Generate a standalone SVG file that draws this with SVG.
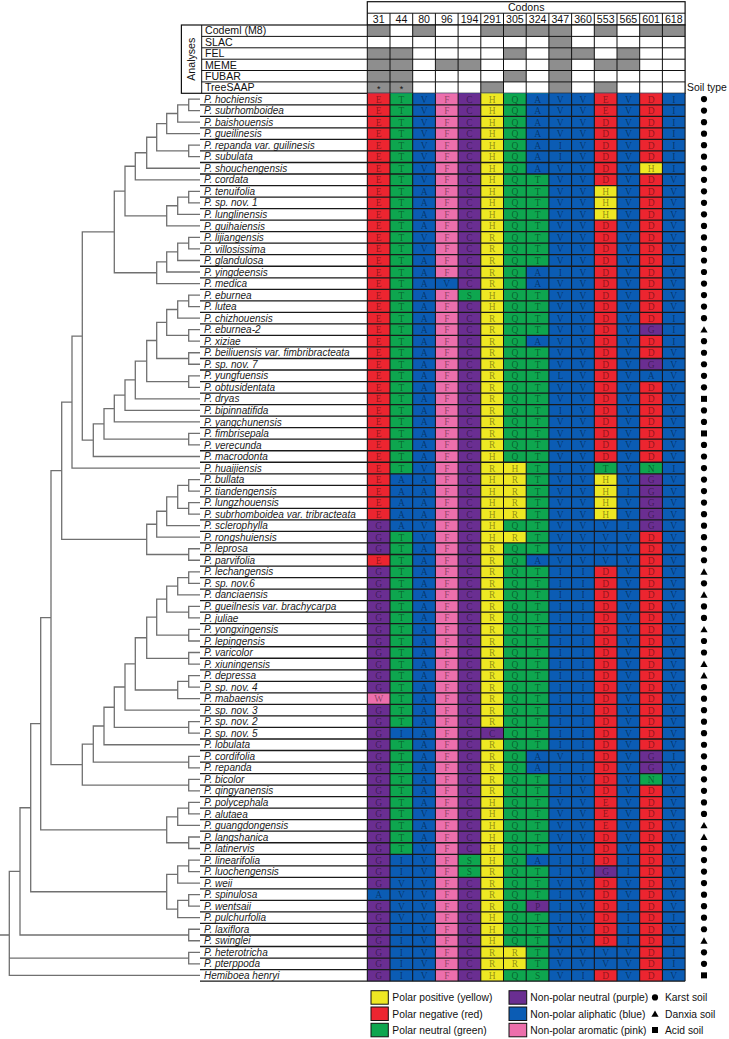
<svg xmlns="http://www.w3.org/2000/svg" xmlns:xlink="http://www.w3.org/1999/xlink" width="729" height="1039" viewBox="0 0 729 1039">
<style>
.n{font-family:"Liberation Sans",Arial,sans-serif;font-style:italic;font-size:10px;fill:#1a1a1a}
.a{font-family:"Liberation Serif","Times New Roman",serif;font-size:9.5px;fill:#000;fill-opacity:.42;text-anchor:middle}
.h{font-family:"Liberation Sans",Arial,sans-serif;font-size:10.6px;fill:#111}
.c{text-anchor:middle}
.lg{font-family:"Liberation Sans",Arial,sans-serif;font-size:10.3px;fill:#111}
.y{fill:#eee823}.r{fill:#ec2530}.g{fill:#0ea64f}.b{fill:#0b5cb4}.k{fill:#ec6fac}.p{fill:#6a2e91}.gy{fill:#8e8e8e}
.t{fill:none;stroke:#707070;stroke-width:1.3}
.gr{fill:none;stroke:#111;stroke-width:1}
.nl{fill:none;stroke:#1a1a1a;stroke-width:1.3}
.lb{stroke:#111;stroke-width:1}
</style>
<defs>
<circle id="karst" r="3.1" fill="#000"/>
<path id="danxia" d="M0 -3.5L3.6 2.9H-3.6Z" fill="#000"/>
<rect id="acid" x="-3" y="-3" width="6" height="6" fill="#000"/>
</defs>

<g id="tree">
<path class="t" d="M200 99.07H188.7V110.6H200M188.7 104.84H177.7V122.13H200M177.7 113.49H166.7V133.66H200M200 145.19H188.7V156.72H200M166.7 123.58H156.7V150.96H188.7M156.7 137.27H146.7V168.25H200M146.7 152.76H135.3V179.78H200M200 191.31H188.7V202.84H200M188.7 197.08H177.7V214.37H200M177.7 205.73H166.7V225.9H200M135.3 166.27H125V215.82H166.7M200 237.43H188.7V248.96H200M188.7 243.2H177.7V260.49H200M177.7 251.85H166.7V272.02H200M166.7 261.94H156.7V283.55H200M125 191.05H114.3V272.75H156.7M200 295.08H188.7V306.61H200M188.7 300.85H177.7V318.14H200M200 329.67H188.7V341.2H200M177.7 309.5H166.7V335.44H188.7M200 352.73H188.7V364.26H200M166.7 322.47H156.7V358.5H188.7M200 375.79H188.7V387.32H200M156.7 340.49H146.7V381.56H188.7M146.7 361.03H135.3V398.85H200M135.3 379.94H125V410.38H200M125 395.16H114.3V421.91H200M200 433.44H188.7V444.97H200M114.3 408.54H104V439.21H188.7M104 423.88H93.3V456.5H200M114.3 231.9H82.3V440.19H93.3M82.3 336.05H72V468.03H200M200 479.56H188.7V491.09H200M200 502.62H188.7V514.15H200M188.7 485.33H177.7V508.39H188.7M177.7 496.86H166.7V525.68H200M166.7 511.27H156.7V537.21H200M200 548.74H188.7V560.27H200M156.7 524.24H146.7V554.51H188.7M72 402.04H61.7V539.38H146.7M200 571.8H188.7V583.33H200M188.7 577.57H177.7V594.86H200M200 606.39H188.7V617.92H200M177.7 586.22H166.7V612.16H188.7M200 629.45H188.7V640.98H200M166.7 599.19H156.7V635.22H188.7M200 652.51H188.7V664.04H200M156.7 617.21H146.7V658.28H188.7M200 675.57H188.7V687.1H200M188.7 681.34H177.7V698.63H200M146.7 637.75H135.3V689.99H177.7M135.3 663.87H125V710.16H200M200 721.69H188.7V733.22H200M125 687.02H114.3V727.46H188.7M114.3 707.24H104V744.75H200M200 756.28H188.7V767.81H200M104 726H93.3V762.05H188.7M200 779.34H188.7V790.87H200M93.3 744.03H82.3V785.11H188.7M61.7 470.71H51V764.57H82.3M200 802.4H188.7V813.93H200M188.7 808.17H177.7V825.46H200M200 836.99H188.7V848.52H200M177.7 816.81H166.7V842.76H188.7M51 617.64H40.7V829.78H166.7M200 860.05H188.7V871.58H200M188.7 865.82H177.7V883.11H200M200 894.64H188.7V906.17H200M188.7 900.41H177.7V917.7H200M177.7 874.46H166.7V909.05H177.7M40.7 723.71H30.7V891.76H166.7M200 929.23H188.7V940.76H200M30.7 807.73H20V935H188.7M200 952.29H188.7V963.82H200M20 871.36H9.3V975.35H200M9.3 958.06H188.7M0 935H9.3"/>
</g>

<g id="codons-header">
<rect x="367.3" y="1.7" width="317.8" height="23.3" fill="#fff" stroke="#111" stroke-width="1.2"/>
<path class="gr" d="M367.3 13.2H685.1M390 13.2V25M412.7 13.2V25M435.4 13.2V25M458.1 13.2V25M480.8 13.2V25M503.5 13.2V25M526.2 13.2V25M548.9 13.2V25M571.6 13.2V25M594.3 13.2V25M617 13.2V25M639.7 13.2V25M662.4 13.2V25"/>
<text class="h c" x="526.2" y="11.3">Codons</text>
<g class="h c">
<text x="378.7" y="23">31</text><text x="401.4" y="23">44</text><text x="424.1" y="23">80</text><text x="446.8" y="23">96</text><text x="469.5" y="23">194</text><text x="492.2" y="23">291</text><text x="514.9" y="23">305</text><text x="537.6" y="23">324</text><text x="560.3" y="23">347</text><text x="583" y="23">360</text><text x="605.7" y="23">553</text><text x="628.4" y="23">565</text><text x="651.1" y="23">601</text><text x="673.8" y="23">618</text>
</g>
</g>

<g id="analyses">
<rect x="181.4" y="25" width="503.7" height="68.3" fill="#fff"/>
<g class="gy">
<rect x="367.3" y="25" width="22.7" height="11.4"/><rect x="412.7" y="25" width="22.7" height="11.4"/><rect x="480.8" y="25" width="90.8" height="11.4"/><rect x="594.3" y="25" width="22.7" height="11.4"/><rect x="639.7" y="25" width="45.4" height="11.4"/>
<rect x="548.9" y="36.4" width="22.7" height="11.4"/>
<rect x="367.3" y="47.8" width="45.4" height="11.4"/><rect x="503.5" y="47.8" width="22.7" height="11.4"/><rect x="548.9" y="47.8" width="45.4" height="11.4"/><rect x="617" y="47.8" width="22.7" height="11.4"/>
<rect x="367.3" y="59.2" width="45.4" height="11.3"/><rect x="435.4" y="59.2" width="45.4" height="11.3"/><rect x="548.9" y="59.2" width="22.7" height="11.3"/><rect x="594.3" y="59.2" width="45.4" height="11.3"/>
<rect x="367.3" y="70.5" width="45.4" height="11.4"/><rect x="503.5" y="70.5" width="22.7" height="11.4"/><rect x="548.9" y="70.5" width="22.7" height="11.4"/>
<rect x="367.3" y="81.9" width="45.4" height="11.4"/><rect x="480.8" y="81.9" width="22.7" height="11.4"/><rect x="548.9" y="81.9" width="22.7" height="11.4"/><rect x="594.3" y="81.9" width="22.7" height="11.4"/>
</g>
<path class="gr" d="M201.7 36.4H685.1M201.7 47.8H685.1M201.7 59.2H685.1M201.7 70.5H685.1M201.7 81.9H685.1M201.7 25V93.3M367.3 25V93.3M390 25V93.3M412.7 25V93.3M435.4 25V93.3M458.1 25V93.3M480.8 25V93.3M503.5 25V93.3M526.2 25V93.3M548.9 25V93.3M571.6 25V93.3M594.3 25V93.3M617 25V93.3M639.7 25V93.3M662.4 25V93.3"/>
<rect x="181.4" y="25" width="503.7" height="68.3" fill="none" stroke="#111" stroke-width="1.2"/>
<text class="h c" transform="translate(195.3 59.2) rotate(-90)">Analyses</text>
<text class="h" x="205" y="34.3">Codeml (M8)</text>
<text class="h" x="205" y="45.7">SLAC</text>
<text class="h" x="205" y="57.1">FEL</text>
<text class="h" x="205" y="68.5">MEME</text>
<text class="h" x="205" y="79.8">FUBAR</text>
<text class="h" x="205" y="91.2">TreeSAAP</text>
<text class="h c" x="378.7" y="92" style="font-size:9px">*</text>
<text class="h c" x="401.4" y="92" style="font-size:9px">*</text>
<text class="h" x="687" y="90.5" style="font-size:10.4px">Soil type</text>
</g>

<g id="cells">
<rect class="b" x="367.3" y="93.3" width="317.8" height="887.81"/>
<rect class="r" x="367.3" y="93.3" width="22.7" height="426.61"/><rect class="p" x="367.3" y="519.91" width="22.7" height="34.59"/><rect class="r" x="367.3" y="554.5" width="22.7" height="11.53"/><rect class="p" x="367.3" y="566.03" width="22.7" height="126.83"/><rect class="k" x="367.3" y="692.86" width="22.7" height="11.53"/><rect class="p" x="367.3" y="704.39" width="22.7" height="184.48"/><rect class="p" x="367.3" y="900.4" width="22.7" height="80.71"/>
<rect class="g" x="390" y="93.3" width="22.7" height="380.49"/><rect class="g" x="390" y="531.44" width="22.7" height="196.01"/><rect class="g" x="390" y="738.98" width="22.7" height="115.3"/>
<rect class="k" x="435.4" y="93.3" width="22.7" height="184.48"/><rect class="k" x="435.4" y="289.31" width="22.7" height="691.8"/>
<rect class="p" x="458.1" y="93.3" width="22.7" height="887.81"/><rect class="g" x="458.1" y="289.31" width="22.7" height="11.53"/><rect class="g" x="458.1" y="854.28" width="22.7" height="23.06"/>
<rect class="y" x="480.8" y="93.3" width="22.7" height="887.81"/><rect class="p" x="480.8" y="727.45" width="22.7" height="11.53"/>
<rect class="g" x="503.5" y="93.3" width="22.7" height="887.81"/><rect class="y" x="503.5" y="462.26" width="22.7" height="57.65"/><rect class="y" x="503.5" y="531.44" width="22.7" height="11.53"/><rect class="y" x="503.5" y="946.52" width="22.7" height="23.06"/>
<rect class="g" x="526.2" y="93.3" width="22.7" height="887.81"/><rect class="b" x="526.2" y="93.3" width="22.7" height="80.71"/><rect class="b" x="526.2" y="266.25" width="22.7" height="23.06"/><rect class="b" x="526.2" y="335.43" width="22.7" height="11.53"/><rect class="b" x="526.2" y="554.5" width="22.7" height="11.53"/><rect class="b" x="526.2" y="750.51" width="22.7" height="23.06"/><rect class="b" x="526.2" y="854.28" width="22.7" height="11.53"/><rect class="p" x="526.2" y="900.4" width="22.7" height="11.53"/>
<rect class="r" x="594.3" y="93.3" width="22.7" height="887.81"/><rect class="y" x="594.3" y="185.54" width="22.7" height="34.59"/><rect class="g" x="594.3" y="462.26" width="22.7" height="11.53"/><rect class="y" x="594.3" y="473.79" width="22.7" height="46.12"/><rect class="b" x="594.3" y="519.91" width="22.7" height="46.12"/><rect class="p" x="594.3" y="865.81" width="22.7" height="11.53"/><rect class="b" x="594.3" y="946.52" width="22.7" height="23.06"/>
<rect class="r" x="639.7" y="93.3" width="22.7" height="887.81"/><rect class="y" x="639.7" y="162.48" width="22.7" height="11.53"/><rect class="p" x="639.7" y="323.9" width="22.7" height="11.53"/><rect class="p" x="639.7" y="358.49" width="22.7" height="11.53"/><rect class="b" x="639.7" y="370.02" width="22.7" height="11.53"/><rect class="g" x="639.7" y="462.26" width="22.7" height="11.53"/><rect class="p" x="639.7" y="473.79" width="22.7" height="57.65"/><rect class="p" x="639.7" y="750.51" width="22.7" height="23.06"/><rect class="g" x="639.7" y="773.57" width="22.7" height="11.53"/>
<path class="gr" d="M367.3 93.3V981.11M390 93.3V981.11M412.7 93.3V981.11M435.4 93.3V981.11M458.1 93.3V981.11M480.8 93.3V981.11M503.5 93.3V981.11M526.2 93.3V981.11M548.9 93.3V981.11M571.6 93.3V981.11M594.3 93.3V981.11M617 93.3V981.11M639.7 93.3V981.11M662.4 93.3V981.11M685.1 93.3V981.11"/>
<path class="nl" d="M200 104.83H685.1M200 116.36H685.1M200 127.89H685.1M200 139.42H685.1M200 150.95H685.1M200 162.48H685.1M200 174.01H685.1M200 185.54H685.1M200 197.07H685.1M200 208.6H685.1M200 220.13H685.1M200 231.66H685.1M200 243.19H685.1M200 254.72H685.1M200 266.25H685.1M200 277.78H685.1M200 289.31H685.1M200 300.84H685.1M200 312.37H685.1M200 323.9H685.1M200 335.43H685.1M200 346.96H685.1M200 358.49H685.1M200 370.02H685.1M200 381.55H685.1M200 393.08H685.1M200 404.61H685.1M200 416.14H685.1M200 427.67H685.1M200 439.2H685.1M200 450.73H685.1M200 462.26H685.1M200 473.79H685.1M200 485.32H685.1M200 496.85H685.1M200 508.38H685.1M200 519.91H685.1M200 531.44H685.1M200 542.97H685.1M200 554.5H685.1M200 566.03H685.1M200 577.56H685.1M200 589.09H685.1M200 600.62H685.1M200 612.15H685.1M200 623.68H685.1M200 635.21H685.1M200 646.74H685.1M200 658.27H685.1M200 669.8H685.1M200 681.33H685.1M200 692.86H685.1M200 704.39H685.1M200 715.92H685.1M200 727.45H685.1M200 738.98H685.1M200 750.51H685.1M200 762.04H685.1M200 773.57H685.1M200 785.1H685.1M200 796.63H685.1M200 808.16H685.1M200 819.69H685.1M200 831.22H685.1M200 842.75H685.1M200 854.28H685.1M200 865.81H685.1M200 877.34H685.1M200 888.87H685.1M200 900.4H685.1M200 911.93H685.1M200 923.46H685.1M200 934.99H685.1M200 946.52H685.1M200 958.05H685.1M200 969.58H685.1M200 981.11H685.1"/>
</g>

<g id="species">
<g id="sp01" transform="translate(0 93.3)"><text class="n" x="204" y="9.4">P. hochiensis</text><text class="a" y="9.3" x="378.7 401.4 424.1 446.8 469.5 492.2 514.9 537.6 560.3 583 605.7 628.4 651.1 673.8">ETVFCHQAVVEVDI</text><use href="#karst" x="704" y="5.77"/></g>
<g id="sp02" transform="translate(0 104.83)"><text class="n" x="204" y="9.4">P. subrhomboidea</text><text class="a" y="9.3" x="378.7 401.4 424.1 446.8 469.5 492.2 514.9 537.6 560.3 583 605.7 628.4 651.1 673.8">ETVFCHQAVVEVDI</text><use href="#karst" x="704" y="5.77"/></g>
<g id="sp03" transform="translate(0 116.36)"><text class="n" x="204" y="9.4">P. baishouensis</text><text class="a" y="9.3" x="378.7 401.4 424.1 446.8 469.5 492.2 514.9 537.6 560.3 583 605.7 628.4 651.1 673.8">ETVFCHQAVVDVDI</text><use href="#karst" x="704" y="5.77"/></g>
<g id="sp04" transform="translate(0 127.89)"><text class="n" x="204" y="9.4">P. gueilinesis</text><text class="a" y="9.3" x="378.7 401.4 424.1 446.8 469.5 492.2 514.9 537.6 560.3 583 605.7 628.4 651.1 673.8">ETVFCHQAVVDVDI</text><use href="#karst" x="704" y="5.77"/></g>
<g id="sp05" transform="translate(0 139.42)"><text class="n" x="204" y="9.4">P. repanda var. guilinesis</text><text class="a" y="9.3" x="378.7 401.4 424.1 446.8 469.5 492.2 514.9 537.6 560.3 583 605.7 628.4 651.1 673.8">ETVFCHQAIVDVDI</text><use href="#karst" x="704" y="5.77"/></g>
<g id="sp06" transform="translate(0 150.95)"><text class="n" x="204" y="9.4">P. subulata</text><text class="a" y="9.3" x="378.7 401.4 424.1 446.8 469.5 492.2 514.9 537.6 560.3 583 605.7 628.4 651.1 673.8">ETVFCHQAIVDVDI</text><use href="#karst" x="704" y="5.77"/></g>
<g id="sp07" transform="translate(0 162.48)"><text class="n" x="204" y="9.4">P. shouchengensis</text><text class="a" y="9.3" x="378.7 401.4 424.1 446.8 469.5 492.2 514.9 537.6 560.3 583 605.7 628.4 651.1 673.8">ETVFCHQAVVDVHI</text><use href="#karst" x="704" y="5.77"/></g>
<g id="sp08" transform="translate(0 174.01)"><text class="n" x="204" y="9.4">P. cordata</text><text class="a" y="9.3" x="378.7 401.4 424.1 446.8 469.5 492.2 514.9 537.6 560.3 583 605.7 628.4 651.1 673.8">ETVFCHQTVVDVDV</text><use href="#karst" x="704" y="5.77"/></g>
<g id="sp09" transform="translate(0 185.54)"><text class="n" x="204" y="9.4">P. tenuifolia</text><text class="a" y="9.3" x="378.7 401.4 424.1 446.8 469.5 492.2 514.9 537.6 560.3 583 605.7 628.4 651.1 673.8">ETAFCHQTVVHVDV</text><use href="#karst" x="704" y="5.77"/></g>
<g id="sp10" transform="translate(0 197.07)"><text class="n" x="204" y="9.4">P. sp. nov. 1</text><text class="a" y="9.3" x="378.7 401.4 424.1 446.8 469.5 492.2 514.9 537.6 560.3 583 605.7 628.4 651.1 673.8">ETAFCHQTVVHVDV</text><use href="#karst" x="704" y="5.77"/></g>
<g id="sp11" transform="translate(0 208.6)"><text class="n" x="204" y="9.4">P. lunglinensis</text><text class="a" y="9.3" x="378.7 401.4 424.1 446.8 469.5 492.2 514.9 537.6 560.3 583 605.7 628.4 651.1 673.8">ETAFCHQTVVHVDV</text><use href="#karst" x="704" y="5.77"/></g>
<g id="sp12" transform="translate(0 220.13)"><text class="n" x="204" y="9.4">P. guihaiensis</text><text class="a" y="9.3" x="378.7 401.4 424.1 446.8 469.5 492.2 514.9 537.6 560.3 583 605.7 628.4 651.1 673.8">ETAFCHQTVVDVDV</text><use href="#karst" x="704" y="5.77"/></g>
<g id="sp13" transform="translate(0 231.66)"><text class="n" x="204" y="9.4">P. lijiangensis</text><text class="a" y="9.3" x="378.7 401.4 424.1 446.8 469.5 492.2 514.9 537.6 560.3 583 605.7 628.4 651.1 673.8">ETVFCRQTVVDVDV</text><use href="#karst" x="704" y="5.77"/></g>
<g id="sp14" transform="translate(0 243.19)"><text class="n" x="204" y="9.4">P. villosissima</text><text class="a" y="9.3" x="378.7 401.4 424.1 446.8 469.5 492.2 514.9 537.6 560.3 583 605.7 628.4 651.1 673.8">ETVFCRQTVVDVDV</text><use href="#karst" x="704" y="5.77"/></g>
<g id="sp15" transform="translate(0 254.72)"><text class="n" x="204" y="9.4">P. glandulosa</text><text class="a" y="9.3" x="378.7 401.4 424.1 446.8 469.5 492.2 514.9 537.6 560.3 583 605.7 628.4 651.1 673.8">ETAFCRQTVVDVDI</text><use href="#karst" x="704" y="5.77"/></g>
<g id="sp16" transform="translate(0 266.25)"><text class="n" x="204" y="9.4">P. yingdeensis</text><text class="a" y="9.3" x="378.7 401.4 424.1 446.8 469.5 492.2 514.9 537.6 560.3 583 605.7 628.4 651.1 673.8">ETAFCRQAIVDVDV</text><use href="#karst" x="704" y="5.77"/></g>
<g id="sp17" transform="translate(0 277.78)"><text class="n" x="204" y="9.4">P. medica</text><text class="a" y="9.3" x="378.7 401.4 424.1 446.8 469.5 492.2 514.9 537.6 560.3 583 605.7 628.4 651.1 673.8">ETAVCRQAVVDVDV</text><use href="#karst" x="704" y="5.77"/></g>
<g id="sp18" transform="translate(0 289.31)"><text class="n" x="204" y="9.4">P. eburnea</text><text class="a" y="9.3" x="378.7 401.4 424.1 446.8 469.5 492.2 514.9 537.6 560.3 583 605.7 628.4 651.1 673.8">ETAFSHQTVVDVDV</text><use href="#karst" x="704" y="5.77"/></g>
<g id="sp19" transform="translate(0 300.84)"><text class="n" x="204" y="9.4">P. lutea</text><text class="a" y="9.3" x="378.7 401.4 424.1 446.8 469.5 492.2 514.9 537.6 560.3 583 605.7 628.4 651.1 673.8">ETAFCHQTVVDVDV</text><use href="#karst" x="704" y="5.77"/></g>
<g id="sp20" transform="translate(0 312.37)"><text class="n" x="204" y="9.4">P. chizhouensis</text><text class="a" y="9.3" x="378.7 401.4 424.1 446.8 469.5 492.2 514.9 537.6 560.3 583 605.7 628.4 651.1 673.8">ETAFCRQTVVDVDI</text><use href="#karst" x="704" y="5.77"/></g>
<g id="sp21" transform="translate(0 323.9)"><text class="n" x="204" y="9.4">P. eburnea-2</text><text class="a" y="9.3" x="378.7 401.4 424.1 446.8 469.5 492.2 514.9 537.6 560.3 583 605.7 628.4 651.1 673.8">ETAFCRQTVVDVGI</text><use href="#danxia" x="704" y="5.77"/></g>
<g id="sp22" transform="translate(0 335.43)"><text class="n" x="204" y="9.4">P. xiziae</text><text class="a" y="9.3" x="378.7 401.4 424.1 446.8 469.5 492.2 514.9 537.6 560.3 583 605.7 628.4 651.1 673.8">ETAFCRQAVVDVDI</text><use href="#karst" x="704" y="5.77"/></g>
<g id="sp23" transform="translate(0 346.96)"><text class="n" x="204" y="9.4">P. beiliuensis var. fimbribracteata</text><text class="a" y="9.3" x="378.7 401.4 424.1 446.8 469.5 492.2 514.9 537.6 560.3 583 605.7 628.4 651.1 673.8">ETAFCRQTVVDVDV</text><use href="#karst" x="704" y="5.77"/></g>
<g id="sp24" transform="translate(0 358.49)"><text class="n" x="204" y="9.4">P. sp. nov. 7</text><text class="a" y="9.3" x="378.7 401.4 424.1 446.8 469.5 492.2 514.9 537.6 560.3 583 605.7 628.4 651.1 673.8">ETAFCRQTVVDVGV</text><use href="#karst" x="704" y="5.77"/></g>
<g id="sp25" transform="translate(0 370.02)"><text class="n" x="204" y="9.4">P. yungfuensis</text><text class="a" y="9.3" x="378.7 401.4 424.1 446.8 469.5 492.2 514.9 537.6 560.3 583 605.7 628.4 651.1 673.8">ETAFCRQTLVDVAV</text><use href="#karst" x="704" y="5.77"/></g>
<g id="sp26" transform="translate(0 381.55)"><text class="n" x="204" y="9.4">P. obtusidentata</text><text class="a" y="9.3" x="378.7 401.4 424.1 446.8 469.5 492.2 514.9 537.6 560.3 583 605.7 628.4 651.1 673.8">ETAFCRQTVVDVDV</text><use href="#karst" x="704" y="5.77"/></g>
<g id="sp27" transform="translate(0 393.08)"><text class="n" x="204" y="9.4">P. dryas</text><text class="a" y="9.3" x="378.7 401.4 424.1 446.8 469.5 492.2 514.9 537.6 560.3 583 605.7 628.4 651.1 673.8">ETAFCRQTVVDVDV</text><use href="#acid" x="704" y="5.77"/></g>
<g id="sp28" transform="translate(0 404.61)"><text class="n" x="204" y="9.4">P. bipinnatifida</text><text class="a" y="9.3" x="378.7 401.4 424.1 446.8 469.5 492.2 514.9 537.6 560.3 583 605.7 628.4 651.1 673.8">ETAFCRQTIVDVDV</text><use href="#karst" x="704" y="5.77"/></g>
<g id="sp29" transform="translate(0 416.14)"><text class="n" x="204" y="9.4">P. yangchunensis</text><text class="a" y="9.3" x="378.7 401.4 424.1 446.8 469.5 492.2 514.9 537.6 560.3 583 605.7 628.4 651.1 673.8">ETAFCRQTVVDVDV</text><use href="#karst" x="704" y="5.77"/></g>
<g id="sp30" transform="translate(0 427.67)"><text class="n" x="204" y="9.4">P. fimbrisepala</text><text class="a" y="9.3" x="378.7 401.4 424.1 446.8 469.5 492.2 514.9 537.6 560.3 583 605.7 628.4 651.1 673.8">ETAFCRQTVVDVDV</text><use href="#acid" x="704" y="5.77"/></g>
<g id="sp31" transform="translate(0 439.2)"><text class="n" x="204" y="9.4">P. verecunda</text><text class="a" y="9.3" x="378.7 401.4 424.1 446.8 469.5 492.2 514.9 537.6 560.3 583 605.7 628.4 651.1 673.8">ETAFCRQTVVDVDV</text><use href="#karst" x="704" y="5.77"/></g>
<g id="sp32" transform="translate(0 450.73)"><text class="n" x="204" y="9.4">P. macrodonta</text><text class="a" y="9.3" x="378.7 401.4 424.1 446.8 469.5 492.2 514.9 537.6 560.3 583 605.7 628.4 651.1 673.8">ETAFCHQTVVDVDV</text><use href="#karst" x="704" y="5.77"/></g>
<g id="sp33" transform="translate(0 462.26)"><text class="n" x="204" y="9.4">P. huaijiensis</text><text class="a" y="9.3" x="378.7 401.4 424.1 446.8 469.5 492.2 514.9 537.6 560.3 583 605.7 628.4 651.1 673.8">ETVFCRHTIVTVNI</text><use href="#karst" x="704" y="5.77"/></g>
<g id="sp34" transform="translate(0 473.79)"><text class="n" x="204" y="9.4">P. bullata</text><text class="a" y="9.3" x="378.7 401.4 424.1 446.8 469.5 492.2 514.9 537.6 560.3 583 605.7 628.4 651.1 673.8">EAAFCHRTVVHVGV</text><use href="#karst" x="704" y="5.77"/></g>
<g id="sp35" transform="translate(0 485.32)"><text class="n" x="204" y="9.4">P. tiandengensis</text><text class="a" y="9.3" x="378.7 401.4 424.1 446.8 469.5 492.2 514.9 537.6 560.3 583 605.7 628.4 651.1 673.8">EAAFCHRTVVHIGV</text><use href="#karst" x="704" y="5.77"/></g>
<g id="sp36" transform="translate(0 496.85)"><text class="n" x="204" y="9.4">P. lungzhouensis</text><text class="a" y="9.3" x="378.7 401.4 424.1 446.8 469.5 492.2 514.9 537.6 560.3 583 605.7 628.4 651.1 673.8">EAAFCHRTVVHVGV</text><use href="#karst" x="704" y="5.77"/></g>
<g id="sp37" transform="translate(0 508.38)"><text class="n" x="204" y="9.4">P. subrhomboidea var. tribracteata</text><text class="a" y="9.3" x="378.7 401.4 424.1 446.8 469.5 492.2 514.9 537.6 560.3 583 605.7 628.4 651.1 673.8">EAAFCHRTVVHVGV</text><use href="#karst" x="704" y="5.77"/></g>
<g id="sp38" transform="translate(0 519.91)"><text class="n" x="204" y="9.4">P. sclerophylla</text><text class="a" y="9.3" x="378.7 401.4 424.1 446.8 469.5 492.2 514.9 537.6 560.3 583 605.7 628.4 651.1 673.8">GAVFCHQTVVVIGV</text><use href="#karst" x="704" y="5.77"/></g>
<g id="sp39" transform="translate(0 531.44)"><text class="n" x="204" y="9.4">P. rongshuiensis</text><text class="a" y="9.3" x="378.7 401.4 424.1 446.8 469.5 492.2 514.9 537.6 560.3 583 605.7 628.4 651.1 673.8">GTVFCHRTVVVVDV</text><use href="#karst" x="704" y="5.77"/></g>
<g id="sp40" transform="translate(0 542.97)"><text class="n" x="204" y="9.4">P. leprosa</text><text class="a" y="9.3" x="378.7 401.4 424.1 446.8 469.5 492.2 514.9 537.6 560.3 583 605.7 628.4 651.1 673.8">GTAFCRQTVVVVDV</text><use href="#karst" x="704" y="5.77"/></g>
<g id="sp41" transform="translate(0 554.5)"><text class="n" x="204" y="9.4">P. parvifolia</text><text class="a" y="9.3" x="378.7 401.4 424.1 446.8 469.5 492.2 514.9 537.6 560.3 583 605.7 628.4 651.1 673.8">ETAFCRQAVVVVDV</text><use href="#karst" x="704" y="5.77"/></g>
<g id="sp42" transform="translate(0 566.03)"><text class="n" x="204" y="9.4">P. lechangensis</text><text class="a" y="9.3" x="378.7 401.4 424.1 446.8 469.5 492.2 514.9 537.6 560.3 583 605.7 628.4 651.1 673.8">GTAFCRQTIIDVDV</text><use href="#danxia" x="704" y="5.77"/></g>
<g id="sp43" transform="translate(0 577.56)"><text class="n" x="204" y="9.4">P. sp. nov.6</text><text class="a" y="9.3" x="378.7 401.4 424.1 446.8 469.5 492.2 514.9 537.6 560.3 583 605.7 628.4 651.1 673.8">GTAFCRQTIIDVDV</text><use href="#karst" x="704" y="5.77"/></g>
<g id="sp44" transform="translate(0 589.09)"><text class="n" x="204" y="9.4">P. danciaensis</text><text class="a" y="9.3" x="378.7 401.4 424.1 446.8 469.5 492.2 514.9 537.6 560.3 583 605.7 628.4 651.1 673.8">GTAFCRQTIIDVDV</text><use href="#danxia" x="704" y="5.77"/></g>
<g id="sp45" transform="translate(0 600.62)"><text class="n" x="204" y="9.4">P. gueilnesis var. brachycarpa</text><text class="a" y="9.3" x="378.7 401.4 424.1 446.8 469.5 492.2 514.9 537.6 560.3 583 605.7 628.4 651.1 673.8">GTAFCRQTIIDVDV</text><use href="#karst" x="704" y="5.77"/></g>
<g id="sp46" transform="translate(0 612.15)"><text class="n" x="204" y="9.4">P. juliae</text><text class="a" y="9.3" x="378.7 401.4 424.1 446.8 469.5 492.2 514.9 537.6 560.3 583 605.7 628.4 651.1 673.8">GTAFCRQTIIDVDV</text><use href="#karst" x="704" y="5.77"/></g>
<g id="sp47" transform="translate(0 623.68)"><text class="n" x="204" y="9.4">P. yongxingensis</text><text class="a" y="9.3" x="378.7 401.4 424.1 446.8 469.5 492.2 514.9 537.6 560.3 583 605.7 628.4 651.1 673.8">GTAFCRQTIIDVDV</text><use href="#danxia" x="704" y="5.77"/></g>
<g id="sp48" transform="translate(0 635.21)"><text class="n" x="204" y="9.4">P. lepingensis</text><text class="a" y="9.3" x="378.7 401.4 424.1 446.8 469.5 492.2 514.9 537.6 560.3 583 605.7 628.4 651.1 673.8">GTAFCRQTIIDVDV</text><use href="#karst" x="704" y="5.77"/></g>
<g id="sp49" transform="translate(0 646.74)"><text class="n" x="204" y="9.4">P. varicolor</text><text class="a" y="9.3" x="378.7 401.4 424.1 446.8 469.5 492.2 514.9 537.6 560.3 583 605.7 628.4 651.1 673.8">GTAFCRQTIIDVDV</text><use href="#karst" x="704" y="5.77"/></g>
<g id="sp50" transform="translate(0 658.27)"><text class="n" x="204" y="9.4">P. xiuningensis</text><text class="a" y="9.3" x="378.7 401.4 424.1 446.8 469.5 492.2 514.9 537.6 560.3 583 605.7 628.4 651.1 673.8">GTAFCRQTIIDVDV</text><use href="#danxia" x="704" y="5.77"/></g>
<g id="sp51" transform="translate(0 669.8)"><text class="n" x="204" y="9.4">P. depressa</text><text class="a" y="9.3" x="378.7 401.4 424.1 446.8 469.5 492.2 514.9 537.6 560.3 583 605.7 628.4 651.1 673.8">GTAFCRQTIIDVDV</text><use href="#danxia" x="704" y="5.77"/></g>
<g id="sp52" transform="translate(0 681.33)"><text class="n" x="204" y="9.4">P. sp. nov. 4</text><text class="a" y="9.3" x="378.7 401.4 424.1 446.8 469.5 492.2 514.9 537.6 560.3 583 605.7 628.4 651.1 673.8">GTAFCRQTIIDVDV</text><use href="#karst" x="704" y="5.77"/></g>
<g id="sp53" transform="translate(0 692.86)"><text class="n" x="204" y="9.4">P. mabaensis</text><text class="a" y="9.3" x="378.7 401.4 424.1 446.8 469.5 492.2 514.9 537.6 560.3 583 605.7 628.4 651.1 673.8">WTAFCRQTIIDVDV</text><use href="#karst" x="704" y="5.77"/></g>
<g id="sp54" transform="translate(0 704.39)"><text class="n" x="204" y="9.4">P. sp. nov. 3</text><text class="a" y="9.3" x="378.7 401.4 424.1 446.8 469.5 492.2 514.9 537.6 560.3 583 605.7 628.4 651.1 673.8">GTAFCRQTIIDVDV</text><use href="#karst" x="704" y="5.77"/></g>
<g id="sp55" transform="translate(0 715.92)"><text class="n" x="204" y="9.4">P. sp. nov. 2</text><text class="a" y="9.3" x="378.7 401.4 424.1 446.8 469.5 492.2 514.9 537.6 560.3 583 605.7 628.4 651.1 673.8">GTAFCRQTIIDVDV</text><use href="#karst" x="704" y="5.77"/></g>
<g id="sp56" transform="translate(0 727.45)"><text class="n" x="204" y="9.4">P. sp. nov. 5</text><text class="a" y="9.3" x="378.7 401.4 424.1 446.8 469.5 492.2 514.9 537.6 560.3 583 605.7 628.4 651.1 673.8">GIAFCCQTIIDVDV</text><use href="#karst" x="704" y="5.77"/></g>
<g id="sp57" transform="translate(0 738.98)"><text class="n" x="204" y="9.4">P. lobulata</text><text class="a" y="9.3" x="378.7 401.4 424.1 446.8 469.5 492.2 514.9 537.6 560.3 583 605.7 628.4 651.1 673.8">GTAFCRQTIIDVDV</text><use href="#karst" x="704" y="5.77"/></g>
<g id="sp58" transform="translate(0 750.51)"><text class="n" x="204" y="9.4">P. cordifolia</text><text class="a" y="9.3" x="378.7 401.4 424.1 446.8 469.5 492.2 514.9 537.6 560.3 583 605.7 628.4 651.1 673.8">GTAFCRQAVIDVGI</text><use href="#karst" x="704" y="5.77"/></g>
<g id="sp59" transform="translate(0 762.04)"><text class="n" x="204" y="9.4">P. repanda</text><text class="a" y="9.3" x="378.7 401.4 424.1 446.8 469.5 492.2 514.9 537.6 560.3 583 605.7 628.4 651.1 673.8">GTAFCRQAIIDVGV</text><use href="#karst" x="704" y="5.77"/></g>
<g id="sp60" transform="translate(0 773.57)"><text class="n" x="204" y="9.4">P. bicolor</text><text class="a" y="9.3" x="378.7 401.4 424.1 446.8 469.5 492.2 514.9 537.6 560.3 583 605.7 628.4 651.1 673.8">GTAFCRQTIVDVNV</text><use href="#karst" x="704" y="5.77"/></g>
<g id="sp61" transform="translate(0 785.1)"><text class="n" x="204" y="9.4">P. qingyanensis</text><text class="a" y="9.3" x="378.7 401.4 424.1 446.8 469.5 492.2 514.9 537.6 560.3 583 605.7 628.4 651.1 673.8">GTAFCRQTIVDVDV</text><use href="#karst" x="704" y="5.77"/></g>
<g id="sp62" transform="translate(0 796.63)"><text class="n" x="204" y="9.4">P. polycephala</text><text class="a" y="9.3" x="378.7 401.4 424.1 446.8 469.5 492.2 514.9 537.6 560.3 583 605.7 628.4 651.1 673.8">GTAFCHQTVVEVDV</text><use href="#karst" x="704" y="5.77"/></g>
<g id="sp63" transform="translate(0 808.16)"><text class="n" x="204" y="9.4">P. alutaea</text><text class="a" y="9.3" x="378.7 401.4 424.1 446.8 469.5 492.2 514.9 537.6 560.3 583 605.7 628.4 651.1 673.8">GTVFCHQTVVEVDV</text><use href="#karst" x="704" y="5.77"/></g>
<g id="sp64" transform="translate(0 819.69)"><text class="n" x="204" y="9.4">P. guangdongensis</text><text class="a" y="9.3" x="378.7 401.4 424.1 446.8 469.5 492.2 514.9 537.6 560.3 583 605.7 628.4 651.1 673.8">GTAFCHQTVVEVDV</text><use href="#danxia" x="704" y="5.77"/></g>
<g id="sp65" transform="translate(0 831.22)"><text class="n" x="204" y="9.4">P. langshanica</text><text class="a" y="9.3" x="378.7 401.4 424.1 446.8 469.5 492.2 514.9 537.6 560.3 583 605.7 628.4 651.1 673.8">GTAFCHQTVVDVDV</text><use href="#danxia" x="704" y="5.77"/></g>
<g id="sp66" transform="translate(0 842.75)"><text class="n" x="204" y="9.4">P. latinervis</text><text class="a" y="9.3" x="378.7 401.4 424.1 446.8 469.5 492.2 514.9 537.6 560.3 583 605.7 628.4 651.1 673.8">GTVFCHQTVVDVDV</text><use href="#karst" x="704" y="5.77"/></g>
<g id="sp67" transform="translate(0 854.28)"><text class="n" x="204" y="9.4">P. linearifolia</text><text class="a" y="9.3" x="378.7 401.4 424.1 446.8 469.5 492.2 514.9 537.6 560.3 583 605.7 628.4 651.1 673.8">GIVFSHQAIIDIDV</text><use href="#karst" x="704" y="5.77"/></g>
<g id="sp68" transform="translate(0 865.81)"><text class="n" x="204" y="9.4">P. luochengensis</text><text class="a" y="9.3" x="378.7 401.4 424.1 446.8 469.5 492.2 514.9 537.6 560.3 583 605.7 628.4 651.1 673.8">GIVFSRQTIVGIDV</text><use href="#karst" x="704" y="5.77"/></g>
<g id="sp69" transform="translate(0 877.34)"><text class="n" x="204" y="9.4">P. weii</text><text class="a" y="9.3" x="378.7 401.4 424.1 446.8 469.5 492.2 514.9 537.6 560.3 583 605.7 628.4 651.1 673.8">GVVFCRQTVVDVDV</text><use href="#karst" x="704" y="5.77"/></g>
<g id="sp70" transform="translate(0 888.87)"><text class="n" x="204" y="9.4">P. spinulosa</text><text class="a" y="9.3" x="378.7 401.4 424.1 446.8 469.5 492.2 514.9 537.6 560.3 583 605.7 628.4 651.1 673.8">AVVFCRQTIVDVDV</text><use href="#karst" x="704" y="5.77"/></g>
<g id="sp71" transform="translate(0 900.4)"><text class="n" x="204" y="9.4">P. wentsaii</text><text class="a" y="9.3" x="378.7 401.4 424.1 446.8 469.5 492.2 514.9 537.6 560.3 583 605.7 628.4 651.1 673.8">GVVFCRQPIVDIDV</text><use href="#karst" x="704" y="5.77"/></g>
<g id="sp72" transform="translate(0 911.93)"><text class="n" x="204" y="9.4">P. pulchurfolia</text><text class="a" y="9.3" x="378.7 401.4 424.1 446.8 469.5 492.2 514.9 537.6 560.3 583 605.7 628.4 651.1 673.8">GVVFCHQTIVDIDI</text><use href="#karst" x="704" y="5.77"/></g>
<g id="sp73" transform="translate(0 923.46)"><text class="n" x="204" y="9.4">P. laxiflora</text><text class="a" y="9.3" x="378.7 401.4 424.1 446.8 469.5 492.2 514.9 537.6 560.3 583 605.7 628.4 651.1 673.8">GIVFCHQTVVDIDV</text><use href="#karst" x="704" y="5.77"/></g>
<g id="sp74" transform="translate(0 934.99)"><text class="n" x="204" y="9.4">P. swinglei</text><text class="a" y="9.3" x="378.7 401.4 424.1 446.8 469.5 492.2 514.9 537.6 560.3 583 605.7 628.4 651.1 673.8">GIVFCHQTVVDIDI</text><use href="#danxia" x="704" y="5.77"/></g>
<g id="sp75" transform="translate(0 946.52)"><text class="n" x="204" y="9.4">P. heterotricha</text><text class="a" y="9.3" x="378.7 401.4 424.1 446.8 469.5 492.2 514.9 537.6 560.3 583 605.7 628.4 651.1 673.8">GIVFCRRTVVVVDI</text><use href="#karst" x="704" y="5.77"/></g>
<g id="sp76" transform="translate(0 958.05)"><text class="n" x="204" y="9.4">P. pterppoda</text><text class="a" y="9.3" x="378.7 401.4 424.1 446.8 469.5 492.2 514.9 537.6 560.3 583 605.7 628.4 651.1 673.8">GIVFCRRTVVVVDI</text><use href="#karst" x="704" y="5.77"/></g>
<g id="sp77" transform="translate(0 969.58)"><text class="n" x="204" y="9.4">Hemiboea henryi</text><text class="a" y="9.3" x="378.7 401.4 424.1 446.8 469.5 492.2 514.9 537.6 560.3 583 605.7 628.4 651.1 673.8">GIVFCHQSVIDVDV</text><use href="#acid" x="704" y="5.77"/></g>
</g>

<g id="legend">
<rect class="y lb" x="371" y="990.7" width="17.3" height="13.5"/><text class="lg" x="392.3" y="1001.2">Polar positive (yellow)</text>
<rect class="r lb" x="371" y="1007" width="17.3" height="13.5"/><text class="lg" x="392.3" y="1017.5">Polar negative (red)</text>
<rect class="g lb" x="371" y="1023.3" width="17.3" height="13.5"/><text class="lg" x="392.3" y="1033.8">Polar neutral (green)</text>
<rect class="p lb" x="509" y="990.7" width="17.7" height="13.5"/><text class="lg" x="530.3" y="1001.2">Non-polar neutral (purple)</text>
<rect class="b lb" x="509" y="1007" width="17.7" height="13.5"/><text class="lg" x="530.3" y="1017.5">Non-polar aliphatic (blue)</text>
<rect class="k lb" x="509" y="1023.3" width="17.7" height="13.5"/><text class="lg" x="530.3" y="1033.8">Non-polar aromatic (pink)</text>
<use href="#karst" x="655" y="997.4"/><text class="lg" x="665" y="1001.2">Karst soil</text>
<use href="#danxia" x="655" y="1013.9"/><text class="lg" x="665" y="1017.5">Danxia soil</text>
<use href="#acid" x="655" y="1030"/><text class="lg" x="665" y="1033.8">Acid soil</text>
</g>
</svg>
